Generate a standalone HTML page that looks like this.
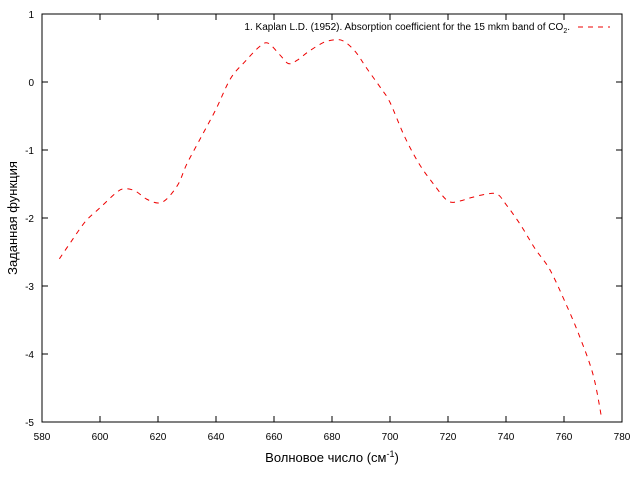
<!DOCTYPE html>
<html><head><meta charset="utf-8"><style>
body{margin:0;background:#fff;}
svg{display:block;font-family:"Liberation Sans","DejaVu Sans",sans-serif;}
</style></head><body>
<svg id="chart" width="640" height="480">
<rect x="42" y="14" width="580" height="408" fill="none" stroke="#000" stroke-width="1"/>
<g id="axes"></g>
<path id="curve" fill="none" stroke="#e00" stroke-width="1" stroke-dasharray="5,5"/>
<text x="570" y="30" font-size="10" text-anchor="end">1. Kaplan L.D. (1952). Absorption coefficient for the 15 mkm band of CO<tspan font-size="7" dy="3">2</tspan><tspan dy="-3">.</tspan></text>
<line x1="578" y1="27" x2="610" y2="27" stroke="#e00" stroke-dasharray="5,5"/>
<text x="332" y="462" font-size="13" text-anchor="middle">Волновое число (см<tspan font-size="9" dy="-5">-1</tspan><tspan dy="5">)</tspan></text>
<text transform="translate(17,218) rotate(-90)" font-size="13" text-anchor="middle">Заданная функция</text>
</svg>
<script>
const xTicks=[580,600,620,640,660,680,700,720,740,760,780];
const yTicks=[1,0,-1,-2,-3,-4,-5];
const waveNumbers=[586,590,595,600,605,608,612,616,620,623,627,630,635,640,645,650,655,658,662,665,668,672,677,681,684,688,692,697,700,705,710,715,720,724,728,733,737,740,745,750,755,760,765,770,773];
const values=[-2.6,-2.35,-2.05,-1.85,-1.65,-1.57,-1.6,-1.72,-1.78,-1.72,-1.5,-1.2,-0.8,-0.4,0.05,0.3,0.52,0.57,0.4,0.27,0.32,0.45,0.58,0.62,0.6,0.45,0.2,-0.1,-0.3,-0.8,-1.2,-1.5,-1.75,-1.75,-1.7,-1.65,-1.65,-1.8,-2.1,-2.45,-2.75,-3.2,-3.7,-4.3,-4.95];
const X0=42,X1=622,Y0=14,Y1=422;
const sx=v=>X0+(v-580)/200*(X1-X0);
const sy=v=>Y0+(1-v)/6*(Y1-Y0);
const NS='http://www.w3.org/2000/svg';
const g=document.getElementById('axes');
xTicks.forEach(t=>{
 const x=sx(t);
 [[Y1,Y1-6],[Y0,Y0+6]].forEach(p=>{const l=document.createElementNS(NS,'line');
 l.setAttribute('x1',x);l.setAttribute('x2',x);l.setAttribute('y1',p[0]);l.setAttribute('y2',p[1]);l.setAttribute('stroke','#000');
 
 
 g.appendChild(l);});
 const tx=document.createElementNS(NS,'text');
 tx.setAttribute('x',x);tx.setAttribute('y',440);tx.setAttribute('font-size','10');tx.setAttribute('text-anchor','middle');
 tx.textContent=t;
 
 
 g.appendChild(tx);
});
yTicks.forEach(t=>{
 const y=sy(t);
 [[X0,X0+6],[X1,X1-6]].forEach(p=>{const l=document.createElementNS(NS,'line');
 l.setAttribute('x1',p[0]);l.setAttribute('x2',p[1]);l.setAttribute('y1',y);l.setAttribute('y2',y);l.setAttribute('stroke','#000');
 
 
 g.appendChild(l);});
 const tx=document.createElementNS(NS,'text');
 tx.setAttribute('x',34);tx.setAttribute('y',y+4);tx.setAttribute('font-size','10');tx.setAttribute('text-anchor','end');
 tx.textContent=t;
 
 
 g.appendChild(tx);
});
const pts=waveNumbers.map((w,i)=>[sx(w),sy(values[i])]);
let d='M'+pts[0][0].toFixed(1)+','+pts[0][1].toFixed(1);
for(let i=0;i<pts.length-1;i++){
 const p0=pts[Math.max(0,i-1)],p1=pts[i],p2=pts[i+1],p3=pts[Math.min(pts.length-1,i+2)];
 const c1=[p1[0]+(p2[0]-p0[0])/6,p1[1]+(p2[1]-p0[1])/6];
 const c2=[p2[0]-(p3[0]-p1[0])/6,p2[1]-(p3[1]-p1[1])/6];
 d+=' C'+c1[0].toFixed(1)+','+c1[1].toFixed(1)+' '+c2[0].toFixed(1)+','+c2[1].toFixed(1)+' '+p2[0].toFixed(1)+','+p2[1].toFixed(1);
}
document.getElementById('curve').setAttribute('d',d);
</script>
</body></html>
